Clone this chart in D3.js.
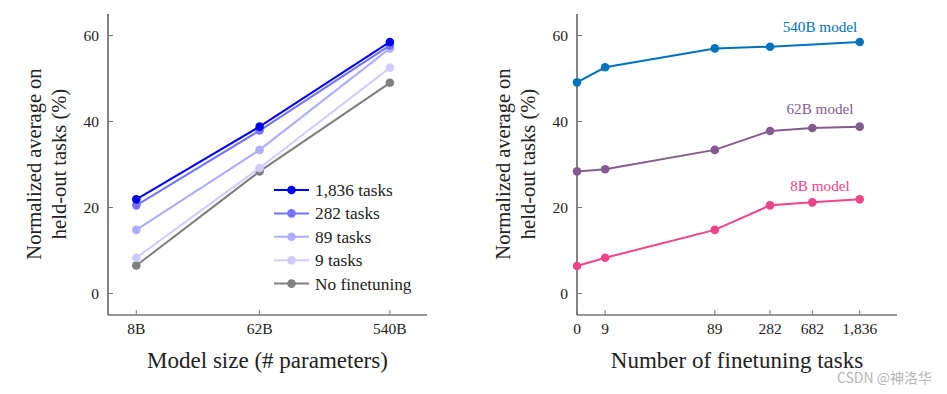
<!DOCTYPE html>
<html>
<head>
<meta charset="utf-8">
<script src="https://cdn.jsdelivr.net/npm/d3@7"></script>
<style>
  body { margin: 0; background: #fff; }
  svg text { font-family: "Liberation Serif", "DejaVu Serif", serif; fill: #222; }
</style>
</head>
<body>
<svg id="chart" width="947" height="394"></svg>
<script>
// left panel: model size vs score, one line per finetuning mix
const modelSizes = [8, 62, 540];
const modelLabels = ['8B', '62B', '540B'];
const taskSeries = ['1,836 tasks', '282 tasks', '89 tasks', '9 tasks', 'No finetuning'];
const tasks1836 = [21.9, 38.8, 58.5];
const tasks282 = [20.5, 37.9, 57.7];
const tasks89 = [14.8, 33.4, 57.0];
const tasks9 = [8.3, 29.2, 52.5];
const noFinetune = [6.5, 28.4, 49.0];
const taskColors = ['#0000ee', '#7373ff', '#adadff', '#ccccff', '#7f7f7f'];

// right panel: number of tasks vs score, one line per model
const numTasks = [0, 9, 89, 282, 682, 1836];
const numTaskLabels = ['0', '9', '89', '282', '682', '1,836'];
const model540 = [49.1, 52.6, 57.0, 57.4, null, 58.5];
const model62 = [28.4, 28.9, 33.4, 37.8, 38.5, 38.8];
const model8 = [6.4, 8.3, 14.8, 20.5, 21.2, 21.9];
const modelNames = ['540B model', '62B model', '8B model'];
const modelColors = ['#0072bd', '#845b8f', '#ee4487'];

const yTicks = [0, 20, 40, 60];

const svg = d3.select('#chart');
const plotTop = 14, plotBottom = 315;

const y = d3.scaleLinear().domain([-5, 65]).range([plotBottom, plotTop]);

function drawFrame(x0, x1, xScale, tickVals, tickLabels, xTitle) {
  const g = svg.append('g');
  // axes lines
  g.append('line').attr('x1', x0).attr('x2', x0).attr('y1', plotTop).attr('y2', plotBottom)
    .attr('stroke', '#333').attr('stroke-width', 1.2);
  g.append('line').attr('x1', x0).attr('x2', x1).attr('y1', plotBottom).attr('y2', plotBottom)
    .attr('stroke', '#333').attr('stroke-width', 1.2);
  yTicks.forEach(t => {
    g.append('line').attr('x1', x0).attr('x2', x0 + 5).attr('y1', y(t)).attr('y2', y(t))
      .attr('stroke', '#777');
    g.append('text').attr('x', x0 - 9).attr('y', y(t)).attr('dy', '0.35em')
      .attr('text-anchor', 'end').style('font-size', '15.5px').text(t);
  });
  tickVals.forEach((v, i) => {
    const px = xScale(v);
    g.append('line').attr('x1', px).attr('x2', px).attr('y1', plotBottom).attr('y2', plotBottom - 5)
      .attr('stroke', '#777');
    g.append('text').attr('x', px).attr('y', 334).attr('text-anchor', 'middle')
      .style('font-size', '15.5px').text(tickLabels[i]);
  });
  g.append('text').attr('x', (x0 + x1) / 2).attr('y', 368).attr('text-anchor', 'middle')
    .style('font-size', '23px').text(xTitle);
  g.append('text').attr('transform', `translate(${x0 - 67},164) rotate(-90)`)
    .attr('text-anchor', 'middle').style('font-size', '20.5px').text('Normalized average on');
  g.append('text').attr('transform', `translate(${x0 - 42},164) rotate(-90)`)
    .attr('text-anchor', 'middle').style('font-size', '20.5px').text('held-out tasks (%)');
}

function drawSeries(xs, vals, color, xScale) {
  const pts = xs.map((v, i) => [v, vals[i]]).filter(d => d[1] != null);
  svg.append('path').datum(pts)
    .attr('fill', 'none').attr('stroke', color).attr('stroke-width', 2)
    .attr('d', d3.line().x(d => xScale(d[0])).y(d => y(d[1])));
  svg.selectAll(null).data(pts).enter().append('circle')
    .attr('cx', d => xScale(d[0])).attr('cy', d => y(d[1])).attr('r', 4.3)
    .attr('fill', color);
}

// ---- left panel ----
const xL = d3.scaleLog().domain([5, 1000]).range([108, 427]);
drawFrame(108, 427, xL, modelSizes, modelLabels, 'Model size (# parameters)');
const leftData = [tasks1836, tasks282, tasks89, tasks9, noFinetune];
// draw lightest first so the dark lines stay on top
[4, 3, 2, 1, 0].forEach(i => drawSeries(modelSizes, leftData[i], taskColors[i], xL));

const legend = svg.append('g').attr('transform', 'translate(274,190)');
taskSeries.forEach((name, i) => {
  const row = legend.append('g').attr('transform', `translate(0,${i * 23.4})`);
  row.append('line').attr('x1', 0).attr('x2', 35).attr('stroke', taskColors[i]).attr('stroke-width', 2);
  row.append('circle').attr('cx', 17.5).attr('r', 4.3).attr('fill', taskColors[i]);
  row.append('text').attr('x', 41).attr('dy', '0.35em').style('font-size', '17.3px').text(name);
});

// ---- right panel ----
// 0 tasks has no place on a log axis, so it sits at the left end of the domain
const xRlog = d3.scaleLog().domain([5, 4000]).range([577, 897]);
const xR = v => xRlog(Math.max(v, 5));
drawFrame(577, 897, xR, numTasks, numTaskLabels, 'Number of finetuning tasks');
const rightData = [model540, model62, model8];
const labelY = [32, 114, 191];
rightData.forEach((vals, i) => {
  drawSeries(numTasks, vals, modelColors[i], xR);
  svg.append('text').attr('x', 820).attr('y', labelY[i]).attr('text-anchor', 'middle')
    .style('font-size', '15.2px').style('fill', modelColors[i]).text(modelNames[i]);
});

// watermark
svg.append('text').attr('x', 932).attr('y', 383).attr('text-anchor', 'end')
  .style('font-family', '"Noto Sans CJK SC", "Noto Sans", sans-serif')
  .style('font-size', '14px').style('fill', '#b5b5b5').text('CSDN @神洛华');
</script>
</body>
</html>
